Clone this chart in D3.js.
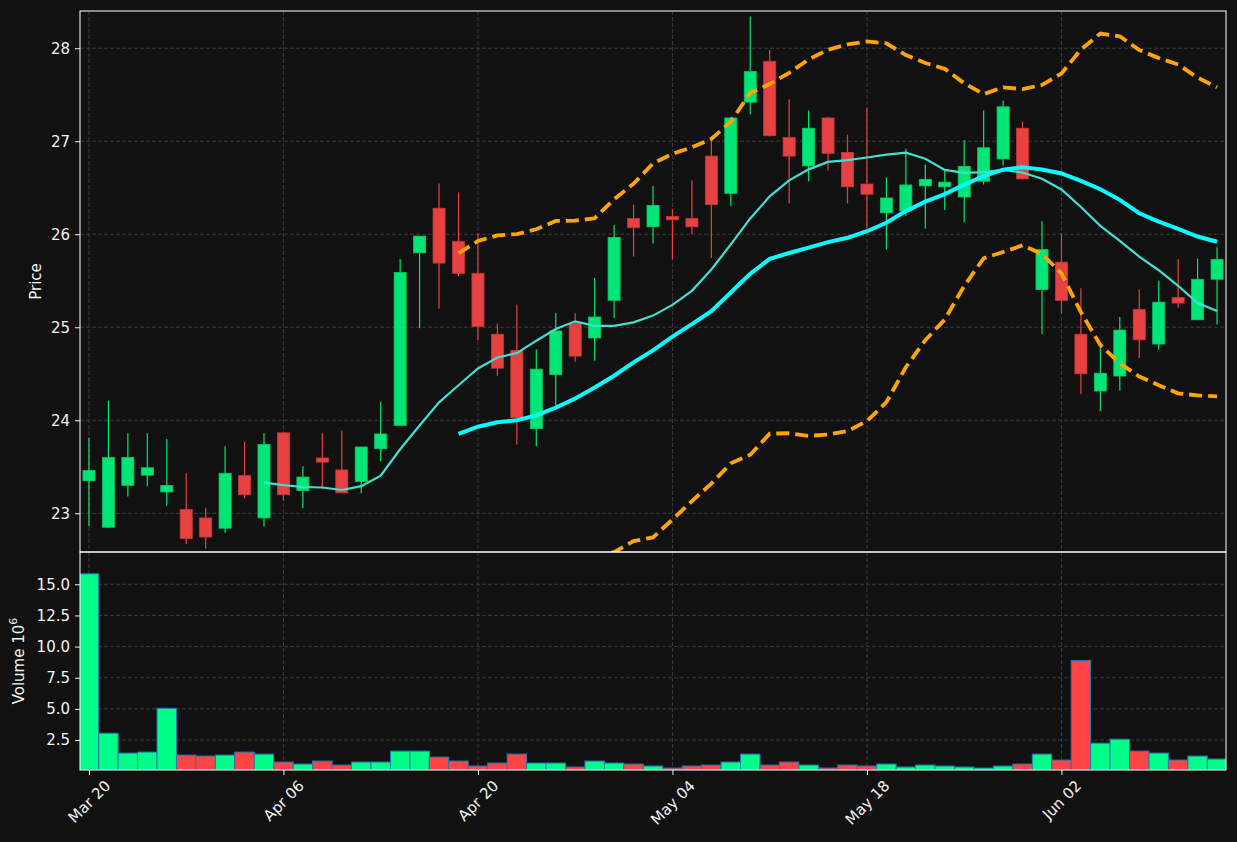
<!DOCTYPE html>
<html>
<head>
<meta charset="utf-8">
<script src="https://cdn.jsdelivr.net/npm/d3@7/dist/d3.min.js"></script>
<style>
  html, body { margin: 0; padding: 0; background: #111111; }
  svg { display: block; font-family: "DejaVu Sans", sans-serif; }
</style>
</head>
<body>
<div id="chart"></div>
<script>
const opens  = [23.35, 22.85, 23.30, 23.41, 23.23, 23.04, 22.95, 22.84, 23.405, 22.95,
                23.865, 23.245, 23.595, 23.466, 23.34, 23.695, 23.946, 25.80, 26.28, 25.925,
                25.58, 24.925, 24.75, 23.91, 24.49, 25.04, 24.885, 25.29, 26.17, 26.08,
                26.19, 26.17, 26.84, 26.44, 27.42, 27.86, 27.04, 26.735, 27.25, 26.88,
                26.54, 26.23, 26.25, 26.52, 26.51, 26.40, 26.57, 26.81, 27.14, 25.405,
                25.70, 24.925, 24.315, 24.476, 25.19, 24.82, 25.32, 25.08, 25.516];
const highs  = [23.81, 24.21, 23.86, 23.86, 23.80, 23.43, 23.06, 23.72, 23.77, 23.86,
                23.87, 23.505, 23.86, 23.89, 23.715, 24.20, 25.73, 25.98, 26.545, 26.45,
                26.01, 25.04, 25.245, 24.76, 25.15, 25.15, 25.53, 26.10, 26.32, 26.52,
                26.27, 26.58, 27.03, 27.26, 28.34, 27.98, 27.45, 27.33, 27.26, 27.07,
                27.36, 26.61, 26.92, 26.75, 26.68, 27.01, 27.33, 27.435, 27.21, 26.14,
                26.01, 25.42, 24.83, 25.11, 25.405, 25.50, 25.73, 25.74, 25.86];
const lows   = [22.86, 22.845, 23.18, 23.29, 23.08, 22.67, 22.62, 22.79, 23.16, 22.86,
                23.135, 23.055, 23.26, 23.215, 23.215, 23.56, 23.94, 24.99, 25.20, 25.55,
                24.86, 24.48, 23.74, 23.72, 24.16, 24.63, 24.64, 25.10, 25.76, 25.90,
                25.73, 26.00, 25.745, 26.30, 27.29, 27.05, 26.33, 26.57, 26.685, 26.33,
                26.07, 25.835, 26.20, 26.06, 26.26, 26.13, 26.535, 26.74, 26.59, 24.925,
                25.15, 24.28, 24.10, 24.32, 24.67, 24.76, 25.21, 25.08, 25.03];
const closes = [23.46, 23.60, 23.60, 23.49, 23.30, 22.73, 22.745, 23.43, 23.20, 23.74,
                23.20, 23.39, 23.55, 23.22, 23.713, 23.853, 25.59, 25.98, 25.69, 25.58,
                25.01, 24.56, 24.03, 24.55, 24.96, 24.69, 25.11, 25.965, 26.07, 26.31,
                26.155, 26.08, 26.32, 27.25, 27.75, 27.06, 26.84, 27.14, 26.87, 26.51,
                26.43, 26.39, 26.53, 26.59, 26.56, 26.73, 26.93, 27.37, 26.595, 25.835,
                25.29, 24.50, 24.505, 24.97, 24.865, 25.27, 25.26, 25.516, 25.73];
const volumes = [15.84, 3.05, 1.454, 1.534, 5.05, 1.294, 1.214, 1.294, 1.534, 1.374,
                 0.734, 0.574, 0.814, 0.494, 0.734, 0.734, 1.614, 1.614, 1.134, 0.814,
                 0.414, 0.654, 1.374, 0.654, 0.654, 0.334, 0.814, 0.654, 0.574, 0.414,
                 0.254, 0.414, 0.494, 0.734, 1.374, 0.494, 0.734, 0.494, 0.254, 0.494,
                 0.414, 0.574, 0.334, 0.494, 0.414, 0.334, 0.254, 0.414, 0.574, 1.374,
                 0.894, 8.89, 2.25, 2.57, 1.614, 1.454, 0.894, 1.214, 0.974];

// x tick labels sit on every 10th session
const tickIndex  = [0, 10, 20, 30, 40, 50];
const tickLabels = ["Mar 20", "Apr 06", "Apr 20", "May 04", "May 18", "Jun 02"];
const priceTicks = [23, 24, 25, 26, 27, 28];
const volumeTicks = [2.5, 5.0, 7.5, 10.0, 12.5, 15.0];

const W = 1237, H = 842;
const left = 80, right = 1226;
const pTop = 11, pBottom = 552, vTop = 552, vBottom = 770;

const bg = "#111111", fg = "#f2f2f2", gridColor = "#3a3a3a";
const upCandle = "#00e676", downCandle = "#e84142";
const upVol = "#00ff88", downVol = "#ff4444";
const fontSize = 15;

const n = closes.length;
const idx = d3.range(n);

// indicators are computed from the closes, like the source chart did
function rolling(period, fn) {
  return idx.map(i => i < period - 1 ? NaN : fn(closes.slice(i - period + 1, i + 1)));
}
// population std (ddof 0)
const popStd = a => { const m = d3.mean(a); return Math.sqrt(d3.mean(a, v => (v - m) * (v - m))); };
const ma10 = rolling(10, d3.mean);
const ma20 = rolling(20, d3.mean);
const sd20 = rolling(20, popStd);
const bbUp = ma20.map((m, i) => m + 2 * sd20[i]);
const bbLo = ma20.map((m, i) => m - 2 * sd20[i]);

const svg = d3.select("#chart").append("svg")
  .attr("width", W).attr("height", H)
  .style("background", bg);

const x = d3.scaleLinear().domain([-0.46, 58.46]).range([left, right]);
const y = d3.scaleLinear().domain([22.584, 28.40]).range([pBottom, pTop]);
const yv = d3.scaleLinear().domain([0.096, 17.59]).range([vBottom, vTop]);
const step = x(1) - x(0);

const defs = svg.append("defs");
defs.append("clipPath").attr("id", "clipP")
  .append("rect").attr("x", left).attr("y", pTop).attr("width", right - left).attr("height", pBottom - pTop);
defs.append("clipPath").attr("id", "clipV")
  .append("rect").attr("x", left).attr("y", vTop).attr("width", right - left).attr("height", vBottom - vTop);

// grid
function grid(g, yScale, yTicks, y0, y1) {
  g.selectAll("line.h").data(yTicks).join("line").attr("class", "h")
    .attr("x1", left).attr("x2", right)
    .attr("y1", d => yScale(d)).attr("y2", d => yScale(d));
  g.selectAll("line.v").data(tickIndex).join("line").attr("class", "v")
    .attr("x1", d => x(d)).attr("x2", d => x(d))
    .attr("y1", y0).attr("y2", y1);
  g.selectAll("line")
    .attr("stroke", gridColor).attr("stroke-width", 1)
    .attr("stroke-dasharray", "4,2");
}
grid(svg.append("g"), y, priceTicks, pTop, pBottom);
grid(svg.append("g"), yv, volumeTicks, vTop, vBottom);

// candles
const candles = svg.append("g").attr("clip-path", "url(#clipP)");
const isUp = i => closes[i] >= opens[i];
const bodyW = step * 0.62;

candles.selectAll(".wick").data(idx).join("line")
  .attr("x1", i => x(i)).attr("x2", i => x(i))
  .attr("y1", i => y(highs[i])).attr("y2", i => y(lows[i]))
  .attr("stroke", i => isUp(i) ? upCandle : downCandle)
  .attr("stroke-width", 1.2);

candles.selectAll(".body").data(idx).join("rect")
  .attr("x", i => x(i) - bodyW / 2)
  .attr("width", bodyW)
  .attr("y", i => y(Math.max(opens[i], closes[i])))
  .attr("height", i => Math.max(1, Math.abs(y(opens[i]) - y(closes[i]))))
  .attr("fill", i => isUp(i) ? upCandle : downCandle)
  .attr("stroke", i => isUp(i) ? "#00c865" : "#c93637")
  .attr("stroke-width", 0.8);

// overlays
const lineGen = arr => d3.line()
  .defined(i => !isNaN(arr[i]))
  .x(i => x(i))
  .y(i => y(arr[i]))(idx);

const overlays = svg.append("g").attr("clip-path", "url(#clipP)");
overlays.append("path").attr("d", lineGen(ma10))
  .attr("fill", "none").attr("stroke", "#40e0d0").attr("stroke-width", 2.2);
overlays.append("path").attr("d", lineGen(ma20))
  .attr("fill", "none").attr("stroke", "#00ffff").attr("stroke-width", 4);
[bbUp, bbLo].forEach(arr => {
  overlays.append("path").attr("d", lineGen(arr))
    .attr("fill", "none").attr("stroke", "#ffa500").attr("stroke-width", 3.8)
    .attr("stroke-dasharray", "13,6");
});

// volume bars
const vol = svg.append("g").attr("clip-path", "url(#clipV)");
vol.selectAll("rect").data(idx).join("rect")
  .attr("x", i => x(i) - step / 2)
  .attr("width", step)
  .attr("y", i => yv(volumes[i]))
  .attr("height", i => yv.range()[0] - yv(volumes[i]))
  .attr("fill", i => isUp(i) ? upVol : downVol)
  .attr("stroke", "#1f77b4")
  .attr("stroke-width", 1);

// frames
[[pTop, pBottom], [vTop, vBottom]].forEach(([a, b]) => {
  svg.append("rect")
    .attr("x", left).attr("y", a).attr("width", right - left).attr("height", b - a)
    .attr("fill", "none").attr("stroke", "#ffffff").attr("stroke-width", 1);
});

// axes
function styleAxis(g) {
  g.select(".domain").remove();
  g.selectAll(".tick line").attr("stroke", fg);
  g.selectAll(".tick text").attr("fill", fg).style("font-size", fontSize + "px")
    .style("font-family", "DejaVu Sans, sans-serif");
}

svg.append("g").attr("transform", `translate(${left},0)`)
  .call(d3.axisLeft(y).tickValues(priceTicks).tickSize(5).tickPadding(5).tickFormat(d3.format("d")))
  .call(styleAxis);

svg.append("g").attr("transform", `translate(${left},0)`)
  .call(d3.axisLeft(yv).tickValues(volumeTicks).tickSize(5).tickPadding(5).tickFormat(d3.format(".1f")))
  .call(styleAxis);

const xAxis = svg.append("g").attr("transform", `translate(0,${vBottom})`)
  .call(d3.axisBottom(x).tickValues(tickIndex).tickSize(5).tickFormat((d, i) => tickLabels[i]))
  .call(styleAxis);

// rotate labels 45 degrees, centred under the tick
xAxis.selectAll(".tick text").each(function() {
  const t = d3.select(this);
  const w = this.getComputedTextLength();
  const half = (w + fontSize) / (2 * Math.SQRT2);
  t.attr("text-anchor", "middle")
    .attr("dy", null)
    .attr("dominant-baseline", "central")
    .attr("y", 0)
    .attr("transform", `translate(0,${8 + half}) rotate(-45)`);
});

// axis titles
svg.append("text")
  .attr("transform", `translate(36,${(pTop + pBottom) / 2}) rotate(-90)`)
  .attr("text-anchor", "middle").attr("dominant-baseline", "central")
  .attr("fill", fg).style("font-size", fontSize + "px")
  .text("Price");

const vLabel = svg.append("text")
  .attr("transform", `translate(19,${(vTop + vBottom) / 2}) rotate(-90)`)
  .attr("text-anchor", "middle").attr("dominant-baseline", "central")
  .attr("fill", fg).style("font-size", fontSize + "px");
vLabel.append("tspan").text("Volume  10");
vLabel.append("tspan").attr("dy", -6).style("font-size", "11px").text("6");
</script>
</body>
</html>
